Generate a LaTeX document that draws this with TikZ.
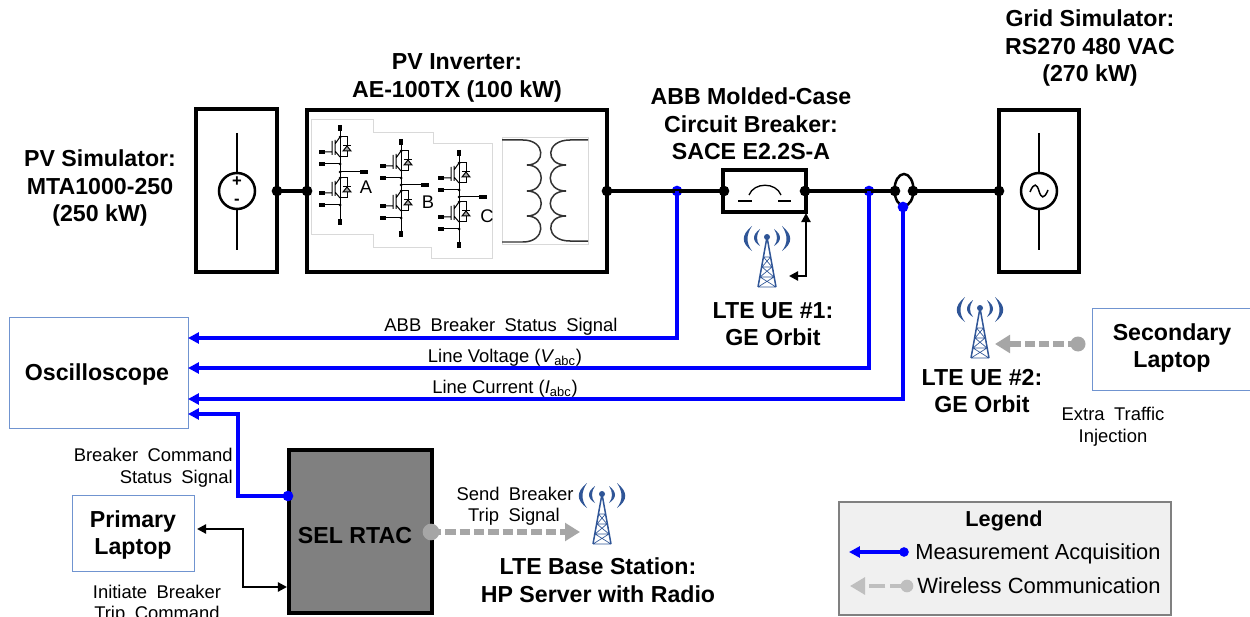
\documentclass[tikz,border=0pt]{standalone}
\usepackage{fontspec}
\setmainfont{Liberation Sans}
\newfontfamily\labfont{Liberation Sans}[WordSpace=1.85]
\usetikzlibrary{arrows.meta,shapes.geometric}
\definecolor{boxblue}{HTML}{7094D0}
\definecolor{towerblue}{HTML}{2F5597}
\definecolor{wgray}{HTML}{A6A6A6}
\definecolor{lgray}{HTML}{BFBFBF}
\definecolor{panelgray}{HTML}{D9D9D9}
\tikzset{
 x=0.6pt,y=-0.6pt,
 btxt/.style={font=\fontsize{13.9}{16}\selectfont\bfseries,inner sep=0pt,align=center,yshift=-1.3pt},
 ltxt/.style={font=\fontsize{11.05}{13}\selectfont\labfont,inner sep=0pt,align=center,yshift=-1.2pt},
 legtxt/.style={font=\fontsize{13.2}{15}\selectfont,inner sep=0pt,anchor=west,yshift=-1.2pt},
 powerbox/.style={draw=black,line width=2.1pt,rectangle,inner sep=0pt,outer sep=0pt},
 thinbox/.style={draw=boxblue,line width=0.55pt,rectangle,inner sep=0pt,outer sep=0pt,fill=white},
 kdot/.style={circle,fill=black,inner sep=0pt,minimum size=6.4pt},
 bdot/.style={circle,fill=blue,inner sep=0pt,minimum size=6.4pt},
 gdot/.style={circle,fill=wgray,inner sep=0pt,minimum size=10pt},
 wire/.style={line width=1.9pt,black},
 bluearrow/.style={line width=2.1pt,blue,-{Triangle[length=6.5pt,width=6.5pt]}},
 wlarrow/.style={line width=3.1pt,wgray,dash pattern=on 6.2pt off 2.4pt,-{Triangle[length=9pt,width=10.5pt]}},
 ctrl/.style={line width=1.3pt,black,{Triangle[length=5.5pt,width=5.5pt]}-{Triangle[length=5.5pt,width=5.5pt]}},
 fine/.style={line width=0.6pt,black},
 stub/.style={line width=1.9pt,black},
}
\newcommand{\igbtcell}[2]{%
 \begin{scope}[shift={(#1,#2)}]
  \draw[fine] (-15,4)--(-8,4) (-8,-7)--(-8,7) (-5,-8)--(-5,7) (-5,-4)--(0,-11) (-5,3)--(0,9);
  \draw[fine] (0,-11)--(7,-11)--(7,9)--(0,9);
  \draw[fine,fill=black!35] (3,3)--(11,3)--(7,-2)--cycle;
  \draw[fine] (3,-2)--(11,-2);
  \draw[stub] (-21,4)--(-15,4);
  \draw[stub] (-21,16)--(-15,16);
  \draw[fine] (-15,16)--(0,16);
  \fill (0,16) circle[radius=1.5];
  \fill (0,-11) circle[radius=1.5];
 \end{scope}}
\newcommand{\inverterleg}[7]{% x top c1 mid c2 bottom label
 \draw[fine] (#1,#2)--(#1,#6);
 \draw[stub] (#1,#2)--(#1,#2+6);
 \draw[stub] (#1,#6-6)--(#1,#6);
 \igbtcell{#1}{#3}\igbtcell{#1}{#5}
 \fill (#1,#4) circle[radius=1.5];
 \draw[fine] (#1,#4)--(#1+20,#4);
 \draw[stub] (#1+20,#4)--(#1+28,#4);
}
\newcommand{\celltower}[2]{%
 \begin{scope}[shift={(#1,#2)}]
  \fill[towerblue] (-7,-8) .. controls (-15,-2) and (-15,4) .. (-7,9) .. controls (-11,4) and (-11,-2) .. (-7,-8);
  \fill[towerblue] (7,-8) .. controls (15,-2) and (15,4) .. (7,9) .. controls (11,4) and (11,-2) .. (7,-8);
  \fill[towerblue] (-15,-11) .. controls (-26,-2) and (-26,6) .. (-15,14) .. controls (-21,6) and (-21,-2) .. (-15,-11);
  \fill[towerblue] (15,-11) .. controls (26,-2) and (26,6) .. (15,14) .. controls (21,6) and (21,-2) .. (15,-11);
  \fill[towerblue] (0,0) circle[radius=3];
  \draw[towerblue,line width=0.9pt] (0,0)--(-9,50) (0,0)--(9,50);
  \draw[towerblue,line width=0.4pt] (-3.5,20)--(3.5,20) (-3.5,20)--(5,30) (3.5,20)--(-5,30) (-5,30)--(5,30) (-5,30)--(7,40) (5,30)--(-7,40) (-7,40)--(7,40) (-7,40)--(9,50) (7,40)--(-9,50) (-9,50)--(9,50);
 \end{scope}}
\begin{document}
\begin{tikzpicture}
\useasboundingbox (0,0) rectangle (1250,617);
\fill[white] (0,0) rectangle (1250,617);

% --- power boxes
\node[powerbox,minimum width=81*0.6pt,minimum height=163*0.6pt] (pvbox) at (236.5,190.5) {};
\node[powerbox,minimum width=300*0.6pt,minimum height=162*0.6pt] (invbox) at (457,191) {};
\node[powerbox,minimum width=80*0.6pt,minimum height=162*0.6pt] (gridbox) at (1039,191) {};
\node[powerbox,minimum width=83*0.6pt,minimum height=42*0.6pt] (brk) at (764.5,191) {};

% --- PV source symbol
\coordinate (pvT) at (237,133); \coordinate (pvB) at (237,250);
\node[circle,draw=black,line width=1.5pt,minimum size=36*0.6pt,inner sep=0pt] (pvsrc) at (237,191) {};
\draw[line width=1.5pt] (pvT)--(pvsrc.north) (pvsrc.south)--(pvB);
\node[inner sep=0pt,font=\fontsize{10}{10}\selectfont\bfseries] (pvplus) at (237,182) {+};
\node[inner sep=0pt,font=\fontsize{10}{10}\selectfont\bfseries] (pvminus) at (237,202) {-};

% --- grid source symbol
\coordinate (gsT) at (1039,133); \coordinate (gsB) at (1039,250);
\node[circle,draw=black,line width=1.5pt,minimum size=36*0.6pt,inner sep=0pt] (gsrc) at (1039,191) {};
\draw[line width=1.5pt] (gsT)--(gsrc.north) (gsrc.south)--(gsB);
\draw[line width=0.9pt] (1030,192) .. controls (1034,182) and (1037,184) .. (1039,191) .. controls (1041,198) and (1044,200) .. (1048,190);

% --- inverter panels
\draw[panelgray,line width=0.4pt] (311,119)--(373,119)--(373,132)--(433,132)--(433,143)--(492,143)--(492,258)--(431,258)--(431,247)--(373,247)--(373,234)--(311,234)--cycle;
\inverterleg{340}{125}{148}{172}{189}{225}{A}
\inverterleg{401}{139}{162}{185}{202}{237}{B}
\inverterleg{459}{150}{174}{197}{213}{248}{C}
\node[inner sep=0pt,font=\fontsize{11}{13}\selectfont] (lA) at (366,187) {A};
\node[inner sep=0pt,font=\fontsize{11}{13}\selectfont] (lB) at (428,202) {B};
\node[inner sep=0pt,font=\fontsize{11}{13}\selectfont] (lC) at (487,216) {C};

% --- transformer
\draw[panelgray,line width=0.5pt] (502,137) rectangle (588,244);
\draw[line width=0.9pt,black!80] (502,140)--(523,140) .. controls (546,140) and (546,165) .. (527,165)
  .. controls (546,165) and (546,191) .. (527,191)
  .. controls (546,191) and (546,216) .. (527,216)
  .. controls (546,216) and (546,242) .. (523,242)--(502,242);
\draw[line width=0.9pt,black!80] (588,140)--(570,140) .. controls (545,140) and (545,165) .. (566,165)
  .. controls (545,165) and (545,191) .. (566,191)
  .. controls (545,191) and (545,216) .. (566,216)
  .. controls (545,216) and (545,241) .. (570,241)--(588,241);

% --- breaker symbol
\draw[fine,line width=0.8pt] (749,195) .. controls (754,182) and (776,182) .. (781,195);
\draw[fine,line width=0.8pt] (738,201)--(752,201) (778,201)--(791,201);

% --- dots on main line
\node[kdot] (d1) at (277,191) {};
\node[kdot] (d2) at (307,191) {};
\node[kdot] (d3) at (607,191) {};
\node[bdot] (dABB) at (677,191) {};
\node[kdot] (d4) at (724,191) {};
\node[kdot] (d5) at (805,191) {};
\node[bdot] (dV) at (869,191) {};
\node[kdot] (d6) at (895,191) {};
\node[kdot] (d7) at (913,191) {};
\node[kdot] (d8) at (999,191) {};
\node[ellipse,draw=black,line width=1.5pt,minimum width=19*0.6pt,minimum height=32*0.6pt,inner sep=0pt] (probe) at (904,190) {};
\node[bdot] (dI) at (903,207) {};
\draw[wire] (d1.center)--(d2.center) (d3.center)--(d4.center) (d5.center)--(d6.center) (d7.center)--(d8.center);

% --- oscilloscope and laptops
\node[thinbox,minimum width=179*0.6pt,minimum height=111*0.6pt] (osc) at (98.5,372.5) {};
\node[btxt] (osctxt) at (97,372) {Oscilloscope};
\coordinate (oscA) at (188,338);
\coordinate (oscB) at (188,368);
\coordinate (oscC) at (188,399);
\coordinate (oscD) at (188,414);
\node[thinbox,minimum width=122*0.6pt,minimum height=76*0.6pt] (plap) at (133,533) {};
\node[btxt] (plap1) at (133,519) {Primary};
\node[btxt] (plap2) at (133,547) {Laptop};
\node[thinbox,minimum width=170*0.6pt,minimum height=82*0.6pt] (slap) at (1177,349) {};
\node[btxt] (slap1) at (1172,332) {Secondary};
\node[btxt] (slap2) at (1172,360) {Laptop};

% --- RTAC
\node[powerbox,fill=black!50,minimum width=143*0.6pt,minimum height=163*0.6pt] (rtac) at (360.5,531.5) {};
\node[btxt] (rtactxt) at (355,533) {SEL RTAC};

% --- measurement connectors
\draw[bluearrow] (dABB.center) |- (oscA);
\draw[bluearrow] (dV.center) |- (oscB);
\draw[bluearrow] (dI.center) |- (oscC);
\node[bdot] (dR) at (288,496) {};
\coordinate (kneeR) at (238,414);
\draw[bluearrow] (dR.center) -| (kneeR) -- (oscD);

% --- control connectors
\coordinate (brkTip) at (806,213);
\coordinate (t1Tip) at (789,276);
\coordinate (brkKnee) at (806,276);
\draw[ctrl] (brkTip)--(brkKnee)--(t1Tip);
\coordinate (lapTip) at (197,529);
\coordinate (rtacTip) at (287,587);
\coordinate (lapKnee) at (243,529);
\coordinate (rtacKnee) at (243,587);
\draw[ctrl] (lapTip)--(lapKnee)--(rtacKnee)--(rtacTip);

% --- wireless connectors
\node[gdot] (dS) at (431,532) {};
\coordinate (bsTip) at (580,532);
\draw[wlarrow] (dS.center)--(bsTip);
\node[gdot,minimum size=9pt] (dL) at (1078,344) {};
\coordinate (ue2Tip) at (995,344);
\draw[wlarrow] (dL.center)--(ue2Tip);

% --- towers
\celltower{767}{237}
\celltower{980}{308}
\celltower{602}{494}

% --- titles
\node[btxt] (tPV) at (100,186) {PV Simulator:\\[0.5pt]MTA1000-250\\[0.5pt](250 kW)};
\node[btxt] (tInv) at (457,76) {PV Inverter:\\[0.5pt]AE-100TX (100 kW)};
\node[btxt] (tABB) at (751,122) {ABB Molded-Case\\[0.5pt]Circuit Breaker:\\[0.5pt]SACE E2.2S-A};
\node[btxt] (tGrid) at (1090,46) {Grid Simulator:\\[0.5pt]RS270 480 VAC\\[0.5pt](270 kW)};
\node[btxt] (tUE1) at (773,322) {LTE UE \#1:\\[0.5pt]GE Orbit};
\node[btxt] (tUE2) at (982,389) {LTE UE \#2:\\[0.5pt]GE Orbit};
\node[btxt] (tBS) at (598,578) {LTE Base Station:\\[0.5pt]HP Server with Radio};

% --- signal labels
\node[ltxt] (sABB) at (501,325) {ABB Breaker Status Signal};
\node[ltxt,font=\fontsize{11.05}{13}\selectfont] (sV) at (505,356) {Line Voltage (\textit{V}\textsubscript{abc})};
\node[ltxt,font=\fontsize{11.05}{13}\selectfont] (sI) at (505,387) {Line Current (\textit{I}\textsubscript{abc})};
\node[ltxt,anchor=east] (sCmd1) at (233,453) {Breaker Command};
\node[ltxt,anchor=east] (sCmd2) at (233,477) {Status Signal};
\node[ltxt] (sIni1) at (157,590) {Initiate Breaker};
\node[ltxt] (sIni2) at (157,613) {Trip Command};
\node[ltxt] (sSend1) at (515,492) {Send Breaker};
\node[ltxt] (sSend2) at (514,515) {Trip Signal};
\node[ltxt] (sExt1) at (1113,412) {Extra Traffic};
\node[ltxt] (sExt2) at (1113,436) {Injection};

% --- legend
\node[rectangle,draw=black!50,line width=1.2pt,fill=black!6,minimum width=332*0.6pt,minimum height=113*0.6pt,inner sep=0pt,outer sep=0pt] (legend) at (1005,558.5) {};
\node[btxt,font=\fontsize{13}{15}\selectfont\bfseries] (legT) at (1004,519) {Legend};
\node[bdot,minimum size=5.8pt] (legB) at (904,552) {};
\coordinate (legBt) at (849,552);
\draw[bluearrow] (legB.center)--(legBt);
\node[gdot,fill=lgray,minimum size=7.6pt] (legG) at (907,586) {};
\coordinate (legGt) at (850,586);
\draw[line width=2.6pt,lgray,dash pattern=on 10pt off 3pt,-{Triangle[length=9pt,width=10pt]}] (legG.center)--(legGt);
\node[legtxt,font=\fontsize{13.1}{15}\selectfont] (legM) at (915,552) {Measurement Acquisition};
\node[legtxt,font=\fontsize{13.2}{15}\selectfont] (legW) at (917,584) {Wireless Communication};
\end{tikzpicture}
\end{document}
